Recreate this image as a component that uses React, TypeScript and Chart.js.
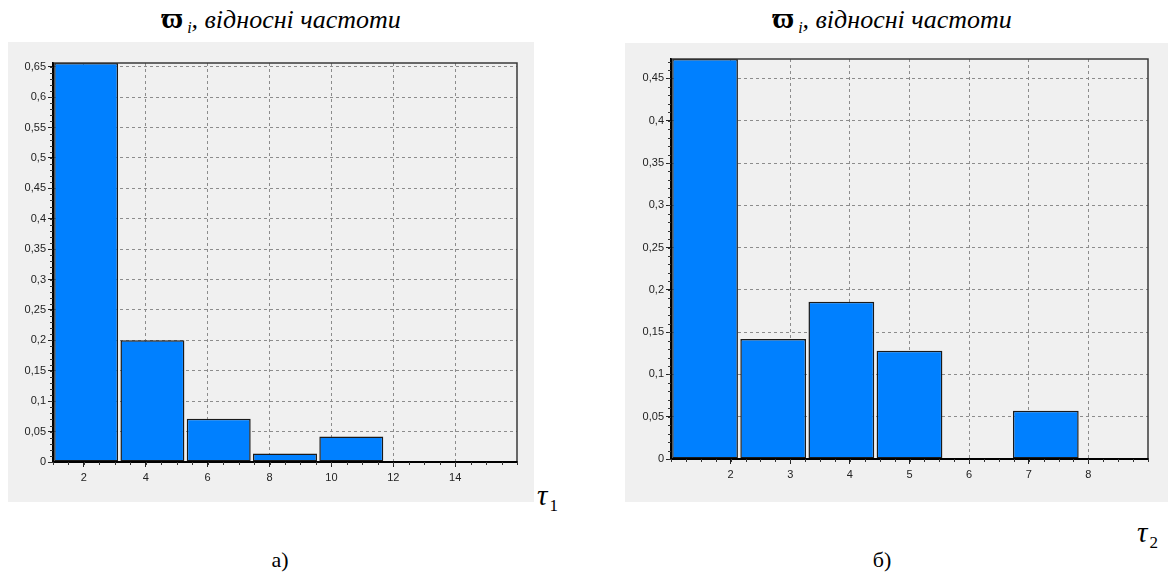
import React, { useEffect, useRef } from 'react';
import { Chart, registerables } from 'chart.js';

Chart.register(...registerables);

// ---- data: chart a) ----
const leftBinCenters = [2.071, 4.214, 6.357, 8.5, 10.643, 12.786, 14.929];
const leftFreq = [0.656, 0.2, 0.071, 0.014, 0.042, 0, 0];
const leftXTicks = [2, 4, 6, 8, 10, 12, 14];
const leftYTicks = [0, 0.05, 0.1, 0.15, 0.2, 0.25, 0.3, 0.35, 0.4, 0.45, 0.5, 0.55, 0.6, 0.65];
const leftYLabels = ['0', '0,05', '0,1', '0,15', '0,2', '0,25', '0,3', '0,35', '0,4', '0,45', '0,5', '0,55', '0,6', '0,65'];

// ---- data: chart б) ----
const rightBinCenters = [1.571, 2.714, 3.857, 5.0, 6.143, 7.286, 8.429];
const rightFreq = [0.473, 0.142, 0.186, 0.128, 0, 0.057, 0];
const rightXTicks = [2, 3, 4, 5, 6, 7, 8];
const rightYTicks = [0, 0.05, 0.1, 0.15, 0.2, 0.25, 0.3, 0.35, 0.4, 0.45];
const rightYLabels = ['0', '0,05', '0,1', '0,15', '0,2', '0,25', '0,3', '0,35', '0,4', '0,45'];

const frameAndMinor = {
  id: 'frameAndMinor',
  afterDraw(chart: any, _args: any, opts: any) {
    const { ctx, chartArea: a, scales } = chart;
    const x = scales.x;
    const y = scales.y;
    ctx.save();
    ctx.setLineDash([]);
    ctx.strokeStyle = '#3a3a3a';
    ctx.lineWidth = 1.5;
    ctx.beginPath();
    ctx.moveTo(a.left, a.top);
    ctx.lineTo(a.right, a.top);
    ctx.lineTo(a.right, a.bottom);
    ctx.stroke();
    ctx.strokeStyle = '#000';
    ctx.lineWidth = 2;
    ctx.beginPath();
    ctx.moveTo(a.left, a.top);
    ctx.lineTo(a.left, a.bottom);
    ctx.lineTo(a.right, a.bottom);
    ctx.stroke();
    ctx.lineWidth = 1;
    ctx.strokeStyle = '#333';
    ctx.beginPath();
    const nx = Math.round((x.max - x.min) / opts.xStep);
    for (let i = 0; i <= nx; i++) {
      const v = x.min + i * opts.xStep;
      const px = Math.round(x.getPixelForValue(v)) + 0.5;
      ctx.moveTo(px, a.bottom);
      ctx.lineTo(px, a.bottom + 3);
    }
    const ny = Math.floor((y.max - y.min) / opts.yStep + 1e-6);
    for (let i = 0; i <= ny; i++) {
      const v = y.min + i * opts.yStep;
      const py = Math.round(y.getPixelForValue(v)) + 0.5;
      ctx.moveTo(a.left, py);
      ctx.lineTo(a.left - 3, py);
    }
    ctx.stroke();
    ctx.restore();
  },
};

type P = {
  centers: number[];
  values: number[];
  xMin: number;
  xMax: number;
  xTicks: number[];
  yMax: number;
  yTicks: number[];
  yLabels: string[];
  padT: number;
  padR: number;
  yAxisW: number;
  xAxisH: number;
  xMinor: number;
  yMinor: number;
};

const tickFont = { family: "'Liberation Sans', Arial, sans-serif", size: 11 };

function makeConfig(p: P): any {
  return {
    type: 'bar',
    data: {
      datasets: [
        {
          data: p.centers.map((c, i) => ({ x: c, y: p.values[i] })),
          backgroundColor: '#0080FF',
          borderColor: '#1a1a1a',
          borderWidth: 1.5,
          borderSkipped: false,
          barPercentage: 0.965,
          categoryPercentage: 1,
          xAxisID: 'xb',
          yAxisID: 'y',
        },
      ],
    },
    options: {
      responsive: false,
      maintainAspectRatio: false,
      animation: false,
      layout: { padding: { left: 0, top: p.padT, right: p.padR, bottom: 0 } },
      plugins: {
        legend: { display: false },
        tooltip: { enabled: false },
        frameAndMinor: { xStep: p.xMinor, yStep: p.yMinor },
      },
      scales: {
        x: {
          type: 'linear',
          position: 'bottom',
          offset: false,
          min: p.xMin,
          max: p.xMax,
          afterBuildTicks: (s: any) => {
            s.ticks = p.xTicks.map((v) => ({ value: v }));
          },
          afterFit: (s: any) => {
            s.height = p.xAxisH;
          },
          ticks: {
            autoSkip: false,
            maxRotation: 0,
            padding: 4,
            color: '#222',
            font: tickFont,
            callback: (v: any) => String(v),
          },
          grid: {
            offset: false,
            color: '#8c8c8c',
            lineWidth: 1,
            drawTicks: true,
            tickLength: 5,
            tickColor: '#222',
            tickWidth: 1,
          },
          border: { display: true, color: '#000', width: 2, dash: [3, 3] },
        },
        xb: {
          type: 'linear',
          display: false,
          position: 'bottom',
          offset: false,
          grid: { offset: false },
          min: p.xMin,
          max: p.xMax,
          afterBuildTicks: (s: any) => {
            s.ticks = p.centers.map((v) => ({ value: v }));
          },
        },
        y: {
          type: 'linear',
          min: 0,
          max: p.yMax,
          afterBuildTicks: (s: any) => {
            s.ticks = p.yTicks.map((v) => ({ value: v }));
          },
          afterFit: (s: any) => {
            s.width = p.yAxisW;
          },
          ticks: {
            autoSkip: false,
            padding: 2,
            color: '#222',
            font: tickFont,
            callback: (_v: any, i: number) => p.yLabels[i],
          },
          grid: {
            color: '#8c8c8c',
            lineWidth: 1,
            drawTicks: true,
            tickLength: 5,
            tickColor: '#222',
            tickWidth: 1,
          },
          border: { display: true, color: '#000', width: 2, dash: [3, 3] },
        },
      },
    },
    plugins: [frameAndMinor],
  };
}

function Hist({ p, left, top, width, height }: { p: P; left: number; top: number; width: number; height: number }) {
  const ref = useRef<HTMLCanvasElement | null>(null);
  useEffect(() => {
    if (!ref.current) return;
    const ch = new Chart(ref.current, makeConfig(p));
    return () => ch.destroy();
  }, []);
  return (
    <div style={{ position: 'absolute', left, top, width, height, background: '#F0F0F0' }}>
      <canvas ref={ref} width={width} height={height} style={{ display: 'block', width, height }} />
    </div>
  );
}

const serif = "'Liberation Serif', 'Times New Roman', serif";

function Title({ cx, top }: { cx: number; top: number }) {
  return (
    <div
      style={{
        position: 'absolute',
        left: cx - 200,
        width: 400,
        top,
        textAlign: 'center',
        fontFamily: serif,
        fontSize: 26,
        fontStyle: 'italic',
        color: '#000',
        whiteSpace: 'nowrap',
        lineHeight: '30px',
      }}
    >
      <span style={{ fontStyle: 'normal', fontWeight: 'bold', fontSize: 30 }}>ϖ</span>
      <sub style={{ fontSize: 16, verticalAlign: '-5px', marginLeft: 4 }}>i</sub>
      <span>, відносні частоти</span>
    </div>
  );
}

function Tau({ left, top, sub }: { left: number; top: number; sub: string }) {
  return (
    <div style={{ position: 'absolute', left, top, fontFamily: serif, fontSize: 29, color: '#000', lineHeight: '30px', whiteSpace: 'nowrap' }}>
      <span style={{ fontStyle: 'italic' }}>τ</span>
      <span style={{ fontSize: 17, verticalAlign: '-6px', marginLeft: 2 }}>{sub}</span>
    </div>
  );
}

export default function App() {
  const leftP: P = {
    centers: leftBinCenters,
    values: leftFreq,
    xMin: 1,
    xMax: 16,
    xTicks: leftXTicks,
    yMax: 0.656,
    yTicks: leftYTicks,
    yLabels: leftYLabels,
    padT: 21,
    padR: 17,
    yAxisW: 45,
    xAxisH: 40,
    xMinor: 0.5,
    yMinor: 0.01,
  };
  const rightP: P = {
    centers: rightBinCenters,
    values: rightFreq,
    xMin: 1,
    xMax: 9,
    xTicks: rightXTicks,
    yMax: 0.473,
    yTicks: rightYTicks,
    yLabels: rightYLabels,
    padT: 16,
    padR: 20,
    yAxisW: 46,
    xAxisH: 43,
    xMinor: 0.25,
    yMinor: 0.01,
  };
  return (
    <div style={{ position: 'absolute', left: 0, top: 0, width: 1171, height: 579, background: '#fff', overflow: 'hidden' }}>
      <Title cx={281} top={3} />
      <Title cx={892} top={3} />
      <Hist p={leftP} left={8} top={42} width={526} height={460} />
      <Hist p={rightP} left={625} top={43} width={543} height={459} />
      <Tau left={537} top={480} sub="1" />
      <Tau left={1137} top={517} sub="2" />
      <div style={{ position: 'absolute', left: 230, width: 100, top: 547, textAlign: 'center', fontFamily: serif, fontSize: 22, lineHeight: '26px' }}>а)</div>
      <div style={{ position: 'absolute', left: 832, width: 100, top: 547, textAlign: 'center', fontFamily: serif, fontSize: 22, lineHeight: '26px' }}>б)</div>
    </div>
  );
}
